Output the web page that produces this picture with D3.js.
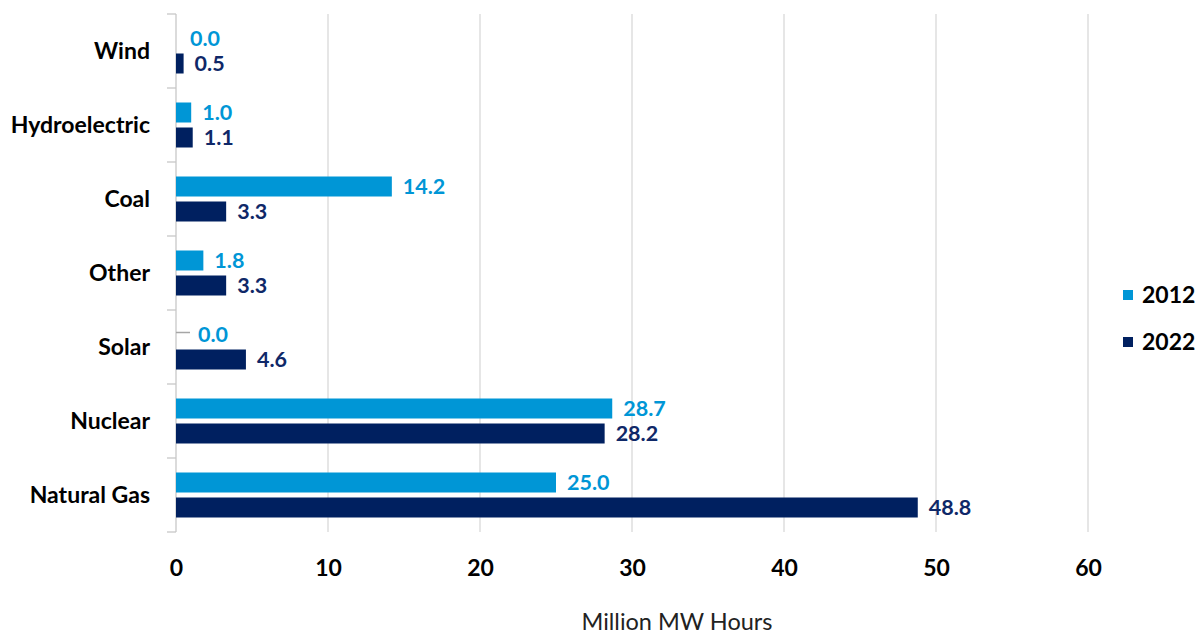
<!DOCTYPE html>
<html>
<head>
<meta charset="utf-8">
<script src="https://cdn.jsdelivr.net/npm/d3@7"></script>
<style>
  html, body { margin: 0; padding: 0; background: #fff; }
  svg { display: block; font-family: Lato, "Open Sans", sans-serif; }
</style>
</head>
<body>
<svg id="chart" width="1198" height="636"></svg>
<script>
// Electricity generation by source, top to bottom
const categories = ["Wind", "Hydroelectric", "Coal", "Other", "Solar", "Nuclear", "Natural Gas"];
const seriesNames = ["2012", "2022"];
const values2012 = [0.0, 1.0, 14.2, 1.8, 0.0, 28.7, 25.0];
const values2022 = [0.5, 1.1, 3.3, 3.3, 4.6, 28.2, 48.8];
const xTicks = [0, 10, 20, 30, 40, 50, 60];
const leaderLabels = ["Solar"]; // 2012 labels pulled off a zero bar with a connector
const axisTitle = "Million MW Hours";

const colors = { "2012": "#0096d6", "2022": "#002060" };
const labelColors = { "2012": "#0096d6", "2022": "#0f2868" };

const svg = d3.select("#chart");
const plot = { left: 176, right: 1088, top: 14, bottom: 532 };

const x = d3.scaleLinear().domain([0, 60]).range([plot.left, plot.right]);
const y = d3.scaleBand().domain(categories).range([plot.top, plot.bottom])
  .paddingInner(29 / 74).paddingOuter(29 / 148);
const ySub = d3.scaleBand().domain(seriesNames).range([0, y.bandwidth()]).paddingInner(0.2);

const rows = categories.map((c, i) => ({
  category: c,
  values: [
    { series: "2012", value: values2012[i] },
    { series: "2022", value: values2022[i] }
  ]
}));

// Vertical gridlines
svg.append("g")
  .selectAll("line")
  .data(xTicks.filter(t => t > 0))
  .join("line")
  .attr("x1", d => x(d)).attr("x2", d => x(d))
  .attr("y1", plot.top).attr("y2", plot.bottom)
  .attr("stroke", "#d9d9d9").attr("stroke-width", 1.3);

// Category axis with boundary ticks
const boundaries = categories.map(c => y(c) - y.step() * y.paddingInner() / 2);
boundaries.push(plot.bottom);
const yAxisG = svg.append("g");
yAxisG.append("line")
  .attr("x1", plot.left).attr("x2", plot.left)
  .attr("y1", plot.top).attr("y2", plot.bottom)
  .attr("stroke", "#c8c8c8").attr("stroke-width", 1.3);
yAxisG.selectAll("line.tick")
  .data(boundaries)
  .join("line")
  .attr("class", "tick")
  .attr("x1", plot.left - 9).attr("x2", plot.left)
  .attr("y1", d => d).attr("y2", d => d)
  .attr("stroke", "#c8c8c8").attr("stroke-width", 1.3);
yAxisG.selectAll("text")
  .data(categories)
  .join("text")
  .attr("x", 150)
  .attr("y", d => y(d) + y.bandwidth() / 2)
  .attr("dy", "0.35em")
  .attr("text-anchor", "end")
  .attr("font-size", 23)
  .attr("font-weight", 700)
  .attr("fill", "#000")
  .text(d => d);

// X axis labels
const xAxis = d3.axisBottom(x).tickValues(xTicks).tickSize(0).tickPadding(0);
const xAxisG = svg.append("g").attr("transform", `translate(0, ${plot.bottom})`).call(xAxis);
xAxisG.select(".domain").remove();
xAxisG.selectAll("text")
  .attr("y", 36)
  .attr("dy", "0.35em")
  .attr("font-family", "Lato, sans-serif")
  .attr("font-size", 23)
  .attr("font-weight", 700)
  .attr("fill", "#000");

// Axis title
svg.append("text")
  .attr("x", 677).attr("y", 630)
  .attr("text-anchor", "middle")
  .attr("font-size", 23.5)
  .attr("fill", "#222")
  .text(axisTitle);

// Bars
const groups = svg.append("g").selectAll("g")
  .data(rows)
  .join("g")
  .attr("transform", d => `translate(0, ${y(d.category)})`);

groups.selectAll("rect")
  .data(d => d.values)
  .join("rect")
  .attr("x", x(0))
  .attr("y", d => ySub(d.series))
  .attr("width", d => x(d.value) - x(0))
  .attr("height", ySub.bandwidth())
  .attr("fill", d => colors[d.series]);

// Value labels
groups.each(function (row) {
  const g = d3.select(this);
  row.values.forEach(v => {
    const cy = ySub(v.series) + ySub.bandwidth() / 2;
    let lx = x(v.value) + 11;
    if (v.series === "2012" && leaderLabels.includes(row.category)) {
      g.append("line")
        .attr("x1", x(0)).attr("x2", x(0) + 14)
        .attr("y1", cy - 2).attr("y2", cy - 2)
        .attr("stroke", "#a6a6a6").attr("stroke-width", 1.5);
      lx = x(0) + 22;
    } else if (v.value === 0) {
      lx = x(0) + 14;
    }
    g.append("text")
      .attr("x", lx)
      .attr("y", cy)
      .attr("dy", "0.35em")
      .attr("font-size", 21.5)
      .attr("font-weight", 700)
      .attr("fill", labelColors[v.series])
      .text(d3.format(".1f")(v.value));
  });
});

// Legend
const legend = svg.append("g").selectAll("g")
  .data(seriesNames)
  .join("g")
  .attr("transform", (d, i) => `translate(1123, ${295 + i * 47})`);
legend.append("rect")
  .attr("x", 0).attr("y", -5)
  .attr("width", 10).attr("height", 10)
  .attr("fill", d => colors[d]);
legend.append("text")
  .attr("x", 19).attr("y", 0)
  .attr("dy", "0.35em")
  .attr("font-size", 23)
  .attr("font-weight", 700)
  .attr("fill", "#000")
  .text(d => d);
</script>
</body>
</html>
